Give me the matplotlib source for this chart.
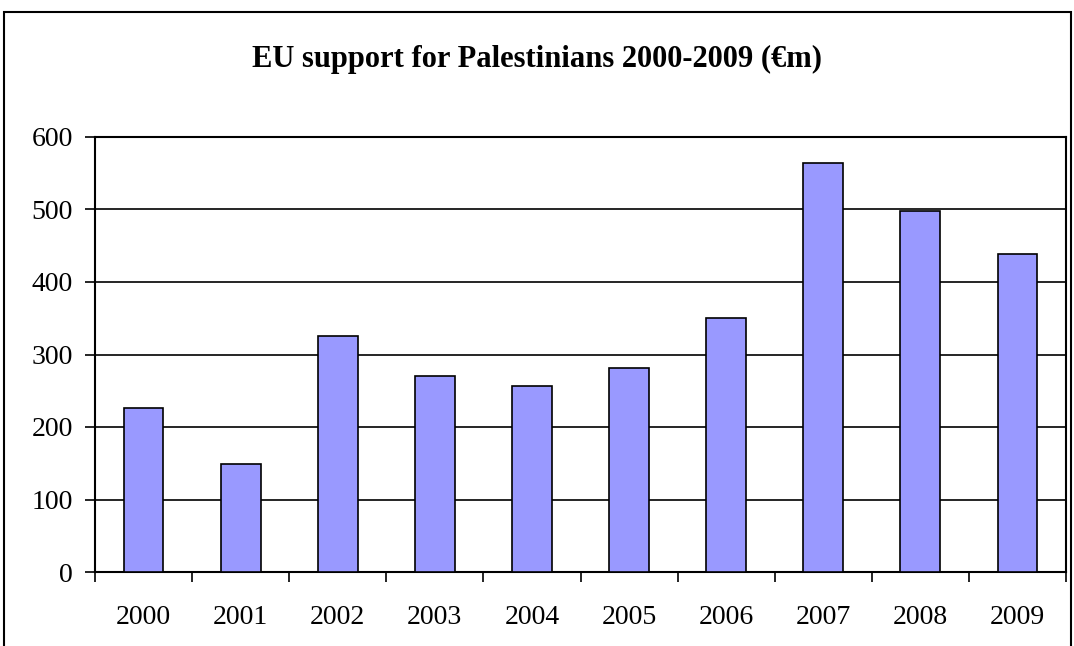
import numpy as np
import matplotlib.pyplot as plt
from matplotlib.patches import Rectangle

years = ['2000', '2001', '2002', '2003', '2004', '2005', '2006', '2007', '2008', '2009']
support = [226, 149, 326, 270, 256, 281, 351, 564, 498, 439]

plt.rcParams['font.family'] = ['Liberation Serif', 'DejaVu Serif']

fig = plt.figure(figsize=(10.74, 6.46), dpi=100)
W, H = 1074, 646

# outer chart frame
fig.patches.append(Rectangle((4 / W, -0.05), 1067 / W, 1.05 - 12 / H, transform=fig.transFigure,
                             fill=False, edgecolor='black', linewidth=1.5))

ax = fig.add_axes([95 / W, (H - 572) / H, (1066 - 95) / W, (572 - 137) / H])
x = np.arange(len(years))
ax.bar(x, support, width=0.41, color='#9999ff', edgecolor='black', linewidth=1.2, zorder=3)

ax.set_xlim(-0.5, len(years) - 0.5)
ax.set_ylim(0, 600)
ax.set_yticks(range(0, 601, 100))
ax.yaxis.grid(True, color='black', linewidth=1.2, zorder=0)
ax.set_axisbelow(True)

ax.set_xticks(x)
ax.set_xticklabels(years)
ax.set_xticks(np.arange(-0.5, len(years), 1), minor=True)
ax.tick_params(axis='x', which='major', length=0, pad=24, labelsize=20)
ax.tick_params(axis='x', which='minor', length=7, width=1.2, direction='out')
ax.tick_params(axis='y', length=7, width=1.2, labelsize=20, pad=9)

for s in ['top', 'right']:
    ax.spines[s].set_linewidth(1.5)
for s in ['left', 'bottom']:
    ax.spines[s].set_linewidth(1.5)

fig.text(537 / W, 1 - 59 / H, 'EU support for Palestinians 2000-2009 (€m)',
         ha='center', va='center', fontsize=22, fontweight='bold')

fig.savefig('out.png', dpi=100)
